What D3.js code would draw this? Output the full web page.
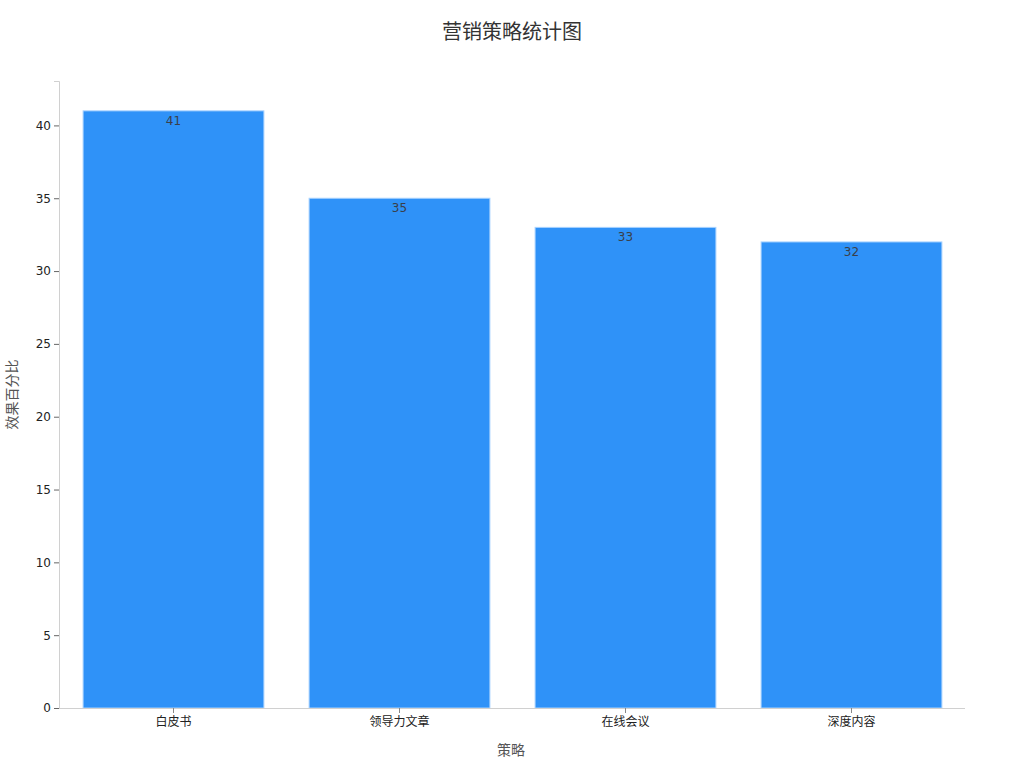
<!DOCTYPE html>
<html>
<head>
<meta charset="utf-8">
<script src="https://cdn.jsdelivr.net/npm/d3@7"></script>
<style>
  body { margin: 0; background: #fff; }
  svg text { font-family: "DejaVu Sans", "Noto Sans CJK SC", sans-serif; }
</style>
</head>
<body>
<div id="vis"></div>
<script>
/* Data */
const strategies = ["白皮书", "领导力文章", "在线会议", "深度内容"];
const effects = [41, 35, 33, 32];
const yTicks = [0, 5, 10, 15, 20, 25, 30, 35, 40];

const W = 1024, H = 768;
const margin = {top: 81, right: 61, bottom: 60, left: 59};

const svg = d3.select("#vis").append("svg")
    .attr("width", W).attr("height", H);

const x = d3.scaleBand()
    .domain(strategies)
    .range([margin.left + 1.5, W - margin.right + 1.5])
    .paddingInner(0.2).paddingOuter(0.1);

const y = d3.scaleLinear()
    .domain([0, d3.max(effects) * 1.05])
    .range([H - margin.bottom, margin.top]);

/* bars */
svg.append("g").selectAll("rect")
  .data(strategies).join("rect")
    .attr("x", d => x(d))
    .attr("y", (d, i) => y(effects[i]))
    .attr("width", x.bandwidth())
    .attr("height", (d, i) => y(0) - y(effects[i]))
    .attr("fill", "#2f92f8")
    .attr("stroke", "#a9d3ff").attr("stroke-width", 1);

/* value labels */
svg.append("g").selectAll("text")
  .data(strategies).join("text")
    .attr("x", d => x(d) + x.bandwidth() / 2)
    .attr("y", (d, i) => y(effects[i]) + 14)
    .attr("text-anchor", "middle")
    .attr("font-size", 12)
    .attr("fill", "#3a3f4a")
    .text((d, i) => effects[i]);

/* axes */
const yAxis = svg.append("g")
    .attr("transform", `translate(${margin.left},0)`)
    .call(d3.axisLeft(y).tickValues(yTicks).tickSize(5).tickPadding(3));
yAxis.select(".domain").attr("stroke", "#d0d0d0");
yAxis.selectAll(".tick line").attr("stroke", "#666");
yAxis.selectAll(".tick text").attr("font-size", 12).attr("fill", "#222");

const xAxis = svg.append("g")
    .attr("transform", `translate(0,${H - margin.bottom})`)
    .call(d3.axisBottom(x).tickSize(5).tickSizeOuter(0).tickPadding(4));
xAxis.select(".domain").attr("stroke", "#d0d0d0")
    .attr("d", `M${margin.left},0.5H${W - margin.right + 2}`);
xAxis.selectAll(".tick line").attr("stroke", "#888");
xAxis.selectAll(".tick text").attr("font-size", 12).attr("fill", "#222");

/* titles */
svg.append("text")
    .attr("x", W / 2).attr("y", 39)
    .attr("text-anchor", "middle")
    .attr("font-size", 20).attr("fill", "#333")
    .text("营销策略统计图");

svg.append("text")
    .attr("x", (margin.left + W - margin.right) / 2).attr("y", 755)
    .attr("text-anchor", "middle")
    .attr("font-size", 14).attr("fill", "#555")
    .text("策略");

svg.append("text")
    .attr("transform", `translate(17,${(margin.top + H - margin.bottom) / 2}) rotate(-90)`)
    .attr("text-anchor", "middle")
    .attr("font-size", 14).attr("fill", "#555")
    .text("效果百分比");
</script>
</body>
</html>
